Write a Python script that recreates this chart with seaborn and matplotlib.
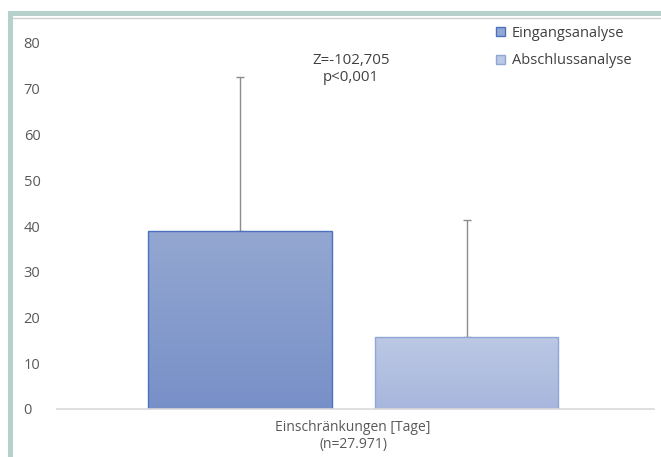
import numpy as np
import pandas as pd
import matplotlib
matplotlib.use("Agg")
import matplotlib.pyplot as plt
import seaborn as sns
from matplotlib.patches import Patch, Rectangle
from matplotlib.lines import Line2D

categories = ["Einschränkungen [Tage]\n(n=27.971)"]
series = ["Eingangsanalyse", "Abschlussanalyse"]
means = [38.9, 15.7]
sds = [33.7, 25.6]
annotation = "Z=-102,705\np<0,001"
yticks = [0, 10, 20, 30, 40, 50, 60, 70, 80]

top_colors = ["#93a7d1", "#bcc8e4"]
bottom_colors = ["#7890c8", "#a7b6dd"]
edge_colors = ["#4a72c0", "#8fa6d6"]

sns.set_theme(style="white")
plt.rcParams["font.family"] = ["Open Sans", "DejaVu Sans"]

df = pd.DataFrame({"cat": categories * 2, "series": series, "value": means})

fig = plt.figure(figsize=(6.61, 4.57), dpi=100)
ax = fig.add_axes([57 / 661, 1 - 409 / 457, (654 - 57) / 661, (409 - 43) / 457])

sns.barplot(data=df, x="cat", y="value", hue="series", hue_order=series,
            palette=top_colors, width=0.76, gap=0.19, errorbar=None,
            legend=False, ax=ax)

XLIM = (-0.496, 0.504)
ax.set_xlim(*XLIM)
ax.set_ylim(0, 80)

# gradient fills and error bars
bars = [p for p in ax.patches if isinstance(p, Rectangle)]
bars = sorted(bars, key=lambda p: p.get_x())
for i, p in enumerate(bars):
    x0, w, h = p.get_x(), p.get_width(), p.get_height()
    c1 = np.array(matplotlib.colors.to_rgb(top_colors[i]))
    c2 = np.array(matplotlib.colors.to_rgb(bottom_colors[i]))
    t = np.linspace(0, 1, 256)[:, None]
    grad = (c1[None, :] * (1 - t) + c2[None, :] * t)[:, None, :]
    im = ax.imshow(grad, extent=[x0, x0 + w, 0, h], aspect="auto",
                   origin="upper", zorder=1.5)
    im.set_clip_path(p)
    p.set_facecolor("none")
    p.set_edgecolor(edge_colors[i])
    p.set_linewidth(1.0)
    p.set_zorder(2)
    ax.errorbar(x0 + w / 2, h, yerr=[[0], [sds[i]]], fmt="none",
                ecolor="#8c8c8c", elinewidth=1.0, capsize=3, capthick=1.0,
                zorder=1.2)

ax.set_xlim(*XLIM)
ax.set_ylim(0, 80)
ax.set_yticks(yticks)
ax.tick_params(axis="y", length=0, pad=24, labelsize=10.5, labelcolor="#595959")
ax.tick_params(axis="x", length=0, pad=8, labelsize=10, labelcolor="#595959")
ax.set_xlabel("")
ax.set_ylabel("")
for s in ["left", "right", "top"]:
    ax.spines[s].set_visible(False)
ax.spines["bottom"].set_color("#d9d9d9")
ax.spines["bottom"].set_linewidth(1.2)
for lab in ax.get_yticklabels():
    lab.set_horizontalalignment("left")
for lab in ax.get_xticklabels():
    lab.set_linespacing(1.15)

ax.text(-0.004, 74.3, annotation, ha="center", va="center", fontsize=10.8,
        color="#404040", linespacing=1.15)

handles = [Patch(facecolor=top_colors[i], edgecolor=edge_colors[i], linewidth=1.0)
           for i in range(2)]
fig.legend(handles, series, loc="upper left", bbox_to_anchor=(496 / 661, 1 - 26 / 457),
           frameon=False, fontsize=10.5, handlelength=0.6, handleheight=0.6,
           handletextpad=0.5, labelspacing=0.85, labelcolor="#404040",
           borderaxespad=0, borderpad=0)

# frame border
fig.add_artist(Rectangle((9 / 661, 1 - 16 / 457), 1, 5 / 457, transform=fig.transFigure,
                         facecolor="#b6d1cb", edgecolor="none"))
fig.add_artist(Rectangle((8 / 661, 0), 5 / 661, 1 - 11 / 457, transform=fig.transFigure,
                         facecolor="#b6d1cb", edgecolor="none"))
fig.add_artist(Line2D([13 / 661, 1], [1 - 18 / 457, 1 - 18 / 457], transform=fig.transFigure,
                      color="#d0d0d0", linewidth=1.0))

fig.savefig("out.png", dpi=100)
